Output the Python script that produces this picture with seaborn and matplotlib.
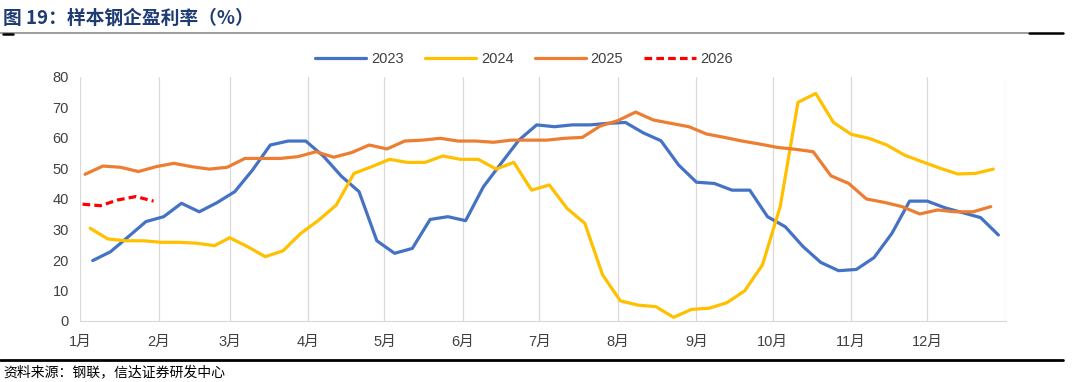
import pandas as pd
import seaborn as sns
import matplotlib.pyplot as plt
from matplotlib.lines import Line2D

# weekly readings (Fridays), share of profitable sample steel mills, %
start_dates = {"2023": "2023-01-06", "2024": "2024-01-05", "2025": "2025-01-03", "2026": "2026-01-02"}

v2023 = [19.8, 22.7, 27.6, 32.6, 34.2, 38.6, 35.8, 38.8, 42.4, 49.5, 57.7, 59.0, 59.0,
         54.0, 47.5, 42.4, 26.3, 22.2, 23.8, 33.3, 34.2, 32.9, 44.0, 51.7, 59.3, 64.3,
         63.7, 64.3, 64.3, 64.8, 65.1, 61.7, 59.1, 51.1, 45.5, 45.1, 42.9, 42.9, 34.2,
         30.9, 24.4, 19.2, 16.5, 16.9, 20.8, 28.7, 39.3, 39.3, 37.1, 35.5, 33.9, 28.2]
v2024 = [30.4, 26.9, 26.3, 26.3, 25.8, 25.8, 25.5, 24.7, 27.3, 24.4, 21.1, 23.0, 28.7,
         33.0, 38.0, 48.4, 50.6, 53.0, 52.0, 52.0, 54.1, 53.0, 53.0, 49.8, 52.0, 42.9,
         44.6, 36.9, 32.0, 15.1, 6.6, 5.2, 4.7, 1.2, 3.8, 4.2, 6.0, 9.9, 18.4,
         37.5, 71.7, 74.6, 65.1, 61.2, 59.9, 57.7, 54.4, 52.2, 50.1, 48.2, 48.4, 49.8]
v2025 = [48.1, 50.8, 50.4, 49.0, 50.6, 51.7, 50.6, 49.8, 50.4, 53.3, 53.3, 53.3, 53.9,
         55.5, 53.7, 55.2, 57.7, 56.4, 59.0, 59.3, 59.9, 59.0, 59.0, 58.6, 59.3, 59.3,
         59.3, 59.9, 60.2, 63.9, 65.7, 68.5, 65.9, 64.8, 63.7, 61.3, 60.2, 59.0, 58.0,
         56.9, 56.3, 55.5, 47.6, 45.1, 40.0, 38.9, 37.5, 35.1, 36.4, 35.8, 35.8, 37.5]
v2026 = [38.3, 37.8, 39.7, 40.8, 39.3]

series = {"2023": v2023, "2024": v2024, "2025": v2025, "2026": v2026}
month_labels = [f"{m}月" for m in range(1, 13)]
y_ticks = [0, 10, 20, 30, 40, 50, 60, 70, 80]

colors = {"2023": "#4472C4", "2024": "#FFC000", "2025": "#ED7D31", "2026": "#FF0000"}

frames = []
for year, vals in series.items():
    dates = pd.date_range(start_dates[year], periods=len(vals), freq="7D")
    # put every year on the same calendar so the weeks line up
    days = [(pd.Timestamp(2023, d.month, d.day) - pd.Timestamp("2023-01-01")).days for d in dates]
    frames.append(pd.DataFrame({"day": days, "value": vals, "year": year}))
df = pd.concat(frames, ignore_index=True)

sns.set_style("white")
plt.rcParams["font.family"] = ["Liberation Sans", "Noto Sans CJK SC", "DejaVu Sans"]

fig = plt.figure(figsize=(10.8, 3.82), dpi=100)
ax = fig.add_axes([80 / 1080, 61 / 382, 926 / 1080, 244 / 382])

sns.lineplot(data=df, x="day", y="value", hue="year", style="year",
             palette=colors, dashes={"2023": "", "2024": "", "2025": "", "2026": (2.4, 1.3)},
             linewidth=2.3, legend=False, ax=ax)

month_starts = [(d - pd.Timestamp("2023-01-01")).days for d in pd.date_range("2023-01-01", periods=12, freq="MS")]
ax.set_xlim(0, 365)
ax.set_ylim(0, 80)
ax.set_xticks(month_starts)
ax.set_xticklabels(month_labels, fontsize=10.5, color="#404040")
ax.set_yticks(y_ticks)
ax.set_yticklabels([str(t) for t in y_ticks], fontsize=10.5, color="#404040")
ax.tick_params(axis="x", length=0, pad=10)
ax.tick_params(axis="y", length=0, pad=8)
ax.set_xlabel("")
ax.set_ylabel("")

for xv in month_starts + [365]:
    ax.axvline(xv, color="#D9D9D9", linewidth=0.9, zorder=0)
for s in ["top", "right", "left"]:
    ax.spines[s].set_visible(False)
ax.spines["bottom"].set_color("#D9D9D9")

handles = [Line2D([], [], color=colors[y], linewidth=2.3,
                  linestyle=(0, (2.4, 1.3)) if y == "2026" else "-") for y in series]
fig.legend(handles, list(series.keys()), loc="center", bbox_to_anchor=(524 / 1080, 1 - 59 / 382),
           ncol=4, frameon=False, fontsize=10.5, handlelength=3.5, columnspacing=1.45,
           handletextpad=0.35, labelcolor="#404040")

# header and footer
fig.text(3 / 1080, 1 - 18 / 382, "图 19：样本钢企盈利率（%）", fontsize=13.5, fontweight="bold",
         color="#1F3B73", va="center", ha="left", family=["Noto Sans CJK SC", "DejaVu Sans"])
fig.add_artist(Line2D([0, 1028 / 1080], [1 - 33 / 382] * 2, color="#8C8C8C", linewidth=1.2))
fig.add_artist(Line2D([1029 / 1080, 1063 / 1080], [1 - 33 / 382] * 2, color="black", linewidth=1.8))
fig.add_artist(Line2D([3 / 1080, 13 / 1080], [1 - 34 / 382] * 2, color="black", linewidth=1.8))
fig.add_artist(Line2D([0, 1063 / 1080], [1 - 360 / 382] * 2, color="black", linewidth=2.0))
fig.text(3 / 1080, 1 - 372 / 382, "资料来源：钢联，信达证券研发中心", fontsize=10, style="italic",
         color="black", va="center", ha="left", family=["Noto Sans CJK SC", "DejaVu Sans"])

fig.savefig("out.png", dpi=100)
